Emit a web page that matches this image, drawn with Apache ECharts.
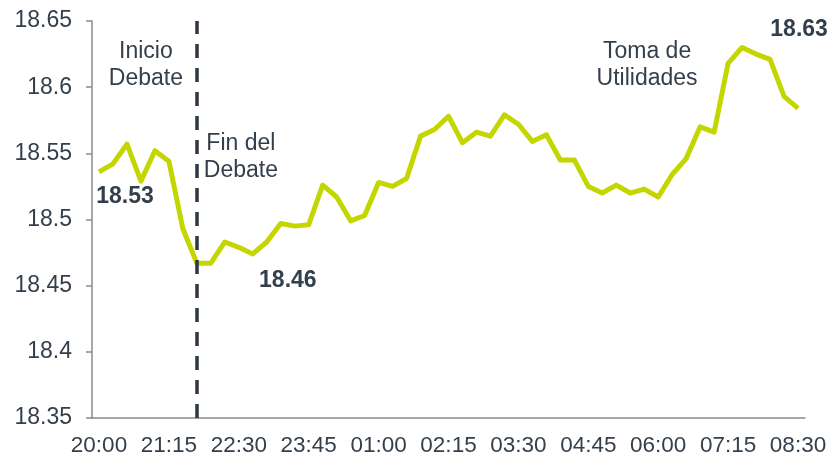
<!doctype html>
<html>

	<head>
		<meta charset="UTF-8">
		<title>Tipo de cambio</title>
		<style>
			body {
				margin: 0;
				background: #FFFFFF;
			}
			
			#lineChart {
				width: 832px;
				height: 457px;
			}
		</style>
	</head>

	<body>
		<div id="lineChart"></div>

		<script src="https://cdn.jsdelivr.net/npm/echarts@6/dist/echarts.min.js"></script>

		<script type="text/javascript">
			// horas (cada 15 min)
			var horas = ['20:00', '20:15', '20:30', '20:45', '21:00', '21:15', '21:30', '21:45',
				'22:00', '22:15', '22:30', '22:45', '23:00', '23:15', '23:30', '23:45',
				'00:00', '00:15', '00:30', '00:45', '01:00', '01:15', '01:30', '01:45',
				'02:00', '02:15', '02:30', '02:45', '03:00', '03:15', '03:30', '03:45',
				'04:00', '04:15', '04:30', '04:45', '05:00', '05:15', '05:30', '05:45',
				'06:00', '06:15', '06:30', '06:45', '07:00', '07:15', '07:30', '07:45',
				'08:00', '08:15', '08:30'
			];

			// tipo de cambio
			var tipoCambio = [18.536, 18.542, 18.557, 18.529, 18.552, 18.544, 18.493, 18.467,
				18.467, 18.483, 18.479, 18.474, 18.483, 18.497, 18.495, 18.496,
				18.526, 18.517, 18.499, 18.503, 18.528, 18.525, 18.531, 18.563,
				18.568, 18.578, 18.558, 18.566, 18.563, 18.579, 18.572, 18.559,
				18.564, 18.545, 18.545, 18.525, 18.520, 18.526, 18.520, 18.523,
				18.517, 18.534, 18.546, 18.570, 18.566, 18.618, 18.630, 18.625,
				18.621, 18.593, 18.584
			];

			var yMin = 18.35;
			var yMax = 18.65;
			var yStep = 0.05;

			// posicion del debate (indice de la hora)
			var idxDebate = 7;

			// etiquetas: texto, indice, valor
			var notas = [
				{ texto: '18.53', idx: 0, valor: tipoCambio[0], bold: true },
				{ texto: '18.46', idx: 7, valor: tipoCambio[7], bold: true },
				{ texto: '18.63', idx: 46, valor: tipoCambio[46], bold: true },
				{ texto: 'Inicio\nDebate', idx: idxDebate, valor: yMax, bold: false },
				{ texto: 'Fin del\nDebate', idx: idxDebate, valor: yMax, bold: false },
				{ texto: 'Toma de\nUtilidades', idx: 46, valor: tipoCambio[46], bold: false }
			];
			var desplaza = [[26, 25], [91, 17], [57, -18], [-51, 44], [44, 136], [-95, 18]];

			var textColor = '#333F4B';

			var markData = [];
			for(var i = 0; i < notas.length; i++) {
				var n = notas[i];
				markData.push({
					coord: [n.idx, n.valor],
					symbolSize: 0,
					label: {
						show: true,
						formatter: n.texto,
						offset: desplaza[i],
						color: textColor,
						fontSize: 23,
						fontWeight: n.bold ? 'bold' : 'normal',
						fontFamily: 'Liberation Sans',
						lineHeight: 27,
						align: 'center',
						verticalAlign: 'middle'
					}
				});
			}

			var option = {
				animation: false,
				grid: {
					left: 92,
					right: 27,
					top: 21,
					bottom: 38
				},
				xAxis: {
					type: 'category',
					data: horas,
					boundaryGap: true,
					axisLine: {
						lineStyle: {
							color: '#8A8A8A',
							width: 1.5
						}
					},
					axisTick: {
						interval: 0,
						length: 6,
						lineStyle: {
							color: '#8A8A8A',
							width: 1.5
						}
					},
					axisLabel: {
						interval: 4,
						margin: 16,
						color: textColor,
						fontSize: 22.5,
						fontFamily: 'Liberation Sans'
					},
					splitLine: {
						show: false
					}
				},
				yAxis: {
					type: 'value',
					min: yMin,
					max: yMax,
					interval: yStep,
					axisLine: {
						show: true,
						lineStyle: {
							color: '#8A8A8A',
							width: 1.5
						}
					},
					axisTick: {
						show: true,
						length: 6,
						lineStyle: {
							color: '#8A8A8A',
							width: 1.5
						}
					},
					axisLabel: {
						margin: 20,
						color: textColor,
						fontSize: 23,
						fontFamily: 'Liberation Sans'
					},
					splitLine: {
						show: false
					}
				},
				series: [{
					name: 'Tipo de cambio',
					type: 'line',
					data: tipoCambio,
					symbol: 'none',
					lineStyle: {
						color: '#C4D600',
						width: 5,
						join: 'round'
					},
					markLine: {
						silent: true,
						symbol: 'none',
						label: {
							show: false
						},
						lineStyle: {
							color: '#2D3843',
							width: 3.5,
							type: [14, 10]
						},
						data: [{
							xAxis: idxDebate
						}]
					},
					markPoint: {
						silent: true,
						symbol: 'circle',
						data: markData
					}
				}]
			};

			var lineChart = echarts.init(document.getElementById('lineChart'));
			lineChart.setOption(option);
		</script>
	</body>

</html>
